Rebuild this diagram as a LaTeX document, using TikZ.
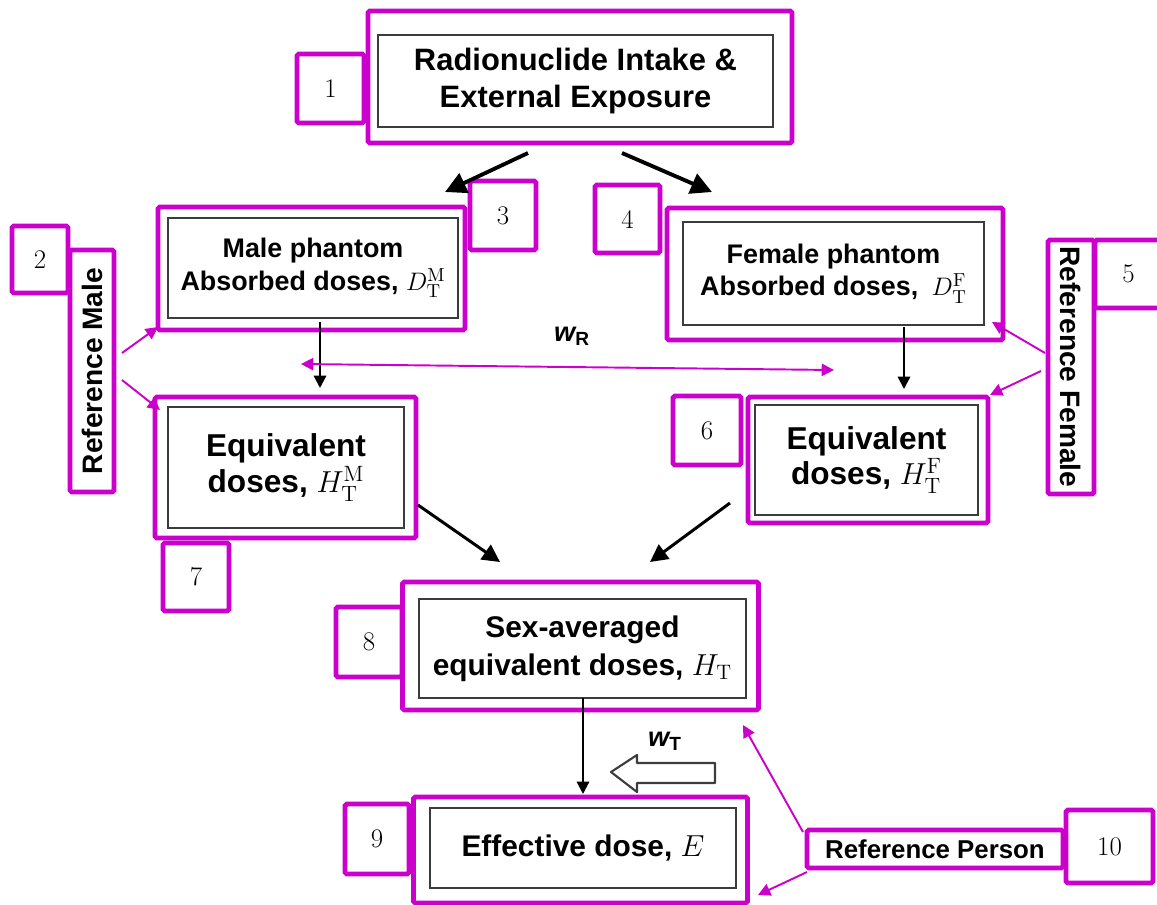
\documentclass[tikz,border=0pt]{standalone}
\usepackage{fontspec}
\setsansfont{Liberation Sans}
\usepackage{amsmath}
\usetikzlibrary{arrows.meta}

\definecolor{hlmag}{RGB}{204,0,204}
\definecolor{boxgray}{RGB}{60,60,60}

\tikzset{
  dim/.style 2 args={minimum width=#1*0.02cm, minimum height=#2*0.02cm, inner sep=0pt},
  hl/.style={draw=hlmag, line width=2.8pt, rounded corners=1pt},
  doc/.style={draw=boxgray, line width=1.2pt, align=center},
  tag/.style={hl, fill=white, font=\fontsize{15.3}{18}\selectfont},
  side/.style={hl, font=\fontsize{16}{19}\selectfont\sffamily\bfseries},
  flow/.style={black, line width=1.2pt, -{Triangle[length=7pt,width=7pt]}},
  bigflow/.style={black, line width=2.2pt, -{Triangle[length=12pt,width=12pt]}},
  mag/.style={hlmag, line width=1.1pt, -{Triangle[length=7pt,width=7pt]}}
}

\begin{document}
\begin{tikzpicture}[x=0.02cm,y=-0.02cm]
  \useasboundingbox (0,0) rectangle (1157,904);

  % intake
  \node[hl, dim={424}{132}] (intake) at (580,77) {};
  \node[doc, dim={395}{92}, font=\fontsize{17.6}{21}\selectfont\sffamily\bfseries] (intaketxt) at (575.5,81) {Radionuclide Intake \&\\External Exposure};
  \node[tag, dim={67}{69}] (t1) at (330.5,88.5) {1};

  % male branch
  \node[hl, dim={307}{123}] (pmale) at (311.5,268.5) {};
  \node[doc, dim={290}{100}, font=\fontsize{15.3}{18.7}\selectfont\sffamily\bfseries] (pmaletxt) at (313,268) {Male phantom\\Absorbed doses, $D_{\mathrm{T}}^{\mathrm{M}}$};
  \node[tag, dim={66}{69}] (t3) at (503,215.5) {3};
  \node[tag, dim={56}{67}] (t2) at (40,259.5) {2};
  \node[side, dim={242}{44}, rotate=90] (refm) at (92,371) {Reference Male};

  \node[hl, dim={261}{141}] (hmale) at (285.5,467.5) {};
  \node[doc, dim={236}{121}, font=\fontsize{18}{20.4}\selectfont\sffamily\bfseries] (hmaletxt) at (286,467.5) {Equivalent\\doses, $H_{\mathrm{T}}^{\mathrm{M}}$};
  \node[tag, dim={66}{68}] (t7) at (196,577) {7};

  % female branch
  \node[hl, dim={336}{132}] (pfem) at (835,274) {};
  \node[doc, dim={301}{103}, font=\fontsize{15.3}{18.7}\selectfont\sffamily\bfseries] (pfemtxt) at (833.5,273.5) {Female phantom\\Absorbed doses,\enspace$D_{\mathrm{T}}^{\mathrm{F}}$};
  \node[tag, dim={65}{68}] (t4) at (627.5,219) {4};
  \node[tag, dim={67}{68}] (t5) at (1128.5,274) {5};
  \node[side, dim={254}{46}, rotate=-90] (reff) at (1071,367) {Reference Female};

  \node[hl, dim={240}{126}] (hfem) at (868,460) {};
  \node[doc, dim={223}{110}, font=\fontsize{18}{20.4}\selectfont\sffamily\bfseries] (hfemtxt) at (866.5,460) {Equivalent\\doses, $H_{\mathrm{T}}^{\mathrm{F}}$};
  \node[tag, dim={68}{69}] (t6) at (707,430.5) {6};

  % averaging and effective dose
  \node[hl, dim={356}{128}] (havg) at (580.5,646) {};
  \node[doc, dim={327}{99}, font=\fontsize{17}{21.5}\selectfont\sffamily\bfseries] (havgtxt) at (582.5,648.5) {Sex-averaged\\equivalent doses, $H_{\mathrm{T}}$};
  \node[tag, dim={66}{70}] (t8) at (369,642) {8};

  \node[hl, dim={334}{106}] (eff) at (580.5,850) {};
  \node[doc, dim={306}{80}, font=\fontsize{17}{20}\selectfont\sffamily\bfseries] (efftxt) at (583,848) {Effective dose, $E$};
  \node[tag, dim={64}{70}] (t9) at (377,839) {9};

  \node[side, dim={256}{38}, font=\fontsize{14.7}{17}\selectfont\sffamily\bfseries] (refp) at (935,849) {Reference Person};
  \node[tag, dim={87}{73}] (t10) at (1109.5,846.5) {10};

  % weighting factors
  \node[font=\fontsize{15.5}{18}\selectfont\sffamily\bfseries\itshape] (wr) at (572,336) {w\textsubscript{\upshape R}};
  \node[font=\fontsize{15.5}{18}\selectfont\sffamily\bfseries\itshape] (wt) at (665,741) {w\textsubscript{\upshape T}};
  \draw[boxgray, line width=1.2pt, fill=white, line join=round]
    (715,763) -- (637,763) -- (637,755) -- (611,772) -- (637,792) -- (637,783) -- (715,783) -- cycle;

  % loose ends of the connectors
  \coordinate (splitl) at (528,153);
  \coordinate (splitr) at (622,153);
  \coordinate (inl) at (445,192);
  \coordinate (inr) at (712,192);
  \coordinate (dmo) at (320,322);
  \coordinate (dmi) at (320,388);
  \coordinate (dfo) at (904,327);
  \coordinate (dfi) at (904,389);
  \coordinate (hmo) at (418,505);
  \coordinate (hfo) at (730,503);
  \coordinate (avgl) at (500,562);
  \coordinate (avgr) at (650,562);
  \coordinate (avgo) at (583,698);
  \coordinate (effi) at (583,794);
  \coordinate (wrl) at (301,364);
  \coordinate (wrr) at (834,370);
  \coordinate (rma) at (122,353);
  \coordinate (rmb) at (122,380);
  \coordinate (rmp) at (158,327);
  \coordinate (rmh) at (160,410);
  \coordinate (rfa) at (1045,353);
  \coordinate (rfb) at (1041,371);
  \coordinate (rfp) at (992,322);
  \coordinate (rfh) at (990,395);
  \coordinate (rpa) at (803,832);
  \coordinate (rpb) at (807,872);
  \coordinate (rph) at (743,725);
  \coordinate (rpe) at (758,895);

  % dose chain
  \draw[bigflow] (splitl) -- (inl);
  \draw[bigflow] (splitr) -- (inr);
  \draw[flow] (dmo) -- (dmi);
  \draw[flow] (dfo) -- (dfi);
  \draw[flow, line width=1.7pt, -{Triangle[length=10pt,width=10pt]}] (hmo) -- (avgl);
  \draw[flow, line width=1.7pt, -{Triangle[length=10pt,width=10pt]}] (hfo) -- (avgr);
  \draw[flow] (avgo) -- (effi);

  % reference markers
  \draw[mag, {Triangle[length=7pt,width=7pt]}-{Triangle[length=7pt,width=7pt]}] (wrl) -- (wrr);
  \draw[mag] (rma) -- (rmp);
  \draw[mag] (rmb) -- (rmh);
  \draw[mag] (rfa) -- (rfp);
  \draw[mag] (rfb) -- (rfh);
  \draw[mag] (rpa) -- (rph);
  \draw[mag] (rpb) -- (rpe);
\end{tikzpicture}
\end{document}
